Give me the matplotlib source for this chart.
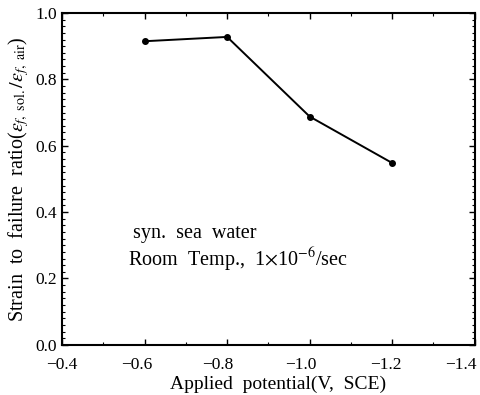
import matplotlib
matplotlib.use("Agg")
import matplotlib.pyplot as plt
from matplotlib.ticker import MultipleLocator, FuncFormatter
from matplotlib.transforms import ScaledTranslation

plt.rcParams['font.family'] = ['Liberation Serif', 'DejaVu Serif']
plt.rcParams['mathtext.fontset'] = 'stix'

# data
potential = [-0.6, -0.8, -1.0, -1.2]
ratio = [0.915, 0.928, 0.688, 0.548]
xticks = [-0.4, -0.6, -0.8, -1.0, -1.2, -1.4]
xtick_labels = ['\u22120.4', '\u22120.6', '\u22120.8', '\u22121.0', '\u22121.2', '\u22121.4']

fig = plt.figure(figsize=(4.81, 3.95), dpi=100)
ax = fig.add_axes([0.129, 0.127, 0.858, 0.840])

ax.plot(potential, ratio, color='black', lw=1.4, marker='o', ms=4)

ax.set_xlim(-0.4, -1.4)
ax.set_ylim(0.0, 1.0)
ax.set_xticks(xticks)
ax.xaxis.set_minor_locator(MultipleLocator(0.1))
ax.yaxis.set_major_locator(MultipleLocator(0.2))
ax.yaxis.set_minor_locator(MultipleLocator(0.02))
ax.yaxis.set_major_formatter(FuncFormatter(lambda v, p: '%.1f' % v))

ax.tick_params(which='both', direction='in', top=True, right=True, labelsize=12.5)
ax.tick_params(axis='x', labelbottom=False)
ax.tick_params(which='major', length=4, width=1.0)
ax.tick_params(which='minor', length=2, width=0.8)
for s in ax.spines.values():
    s.set_linewidth(1.5)

# x tick labels drawn by hand: in the reference they sit a bit left of their ticks
offsets = [0, -8, -9, -9, -6, -14]
for xv, txt, dx in zip(xticks, xtick_labels, offsets):
    tr = ax.get_xaxis_transform() + ScaledTranslation(dx / 100, -0.12, fig.dpi_scale_trans)
    ax.text(xv, 0, txt, transform=tr, ha='center', va='top', fontsize=12.5)

ax.set_xlabel('Applied  potential(V,  SCE)', fontsize=14)
ax.xaxis.set_label_coords(0.523, -0.092)
ax.set_ylabel(r'Strain  to  failure  ratio($\varepsilon_{f,\ \mathrm{sol.}}/\varepsilon_{f,\ \mathrm{air}}$)',
              fontsize=14.5, labelpad=3)

ax.text(-0.572, 0.337, 'syn.  sea  water', fontsize=14.5, va='center')
ax.text(-0.56, 0.256, r'Room  Temp.,  1$\times$10$^{-6}$/sec', fontsize=14.5, va='center')

fig.savefig('out.png', dpi=100)
